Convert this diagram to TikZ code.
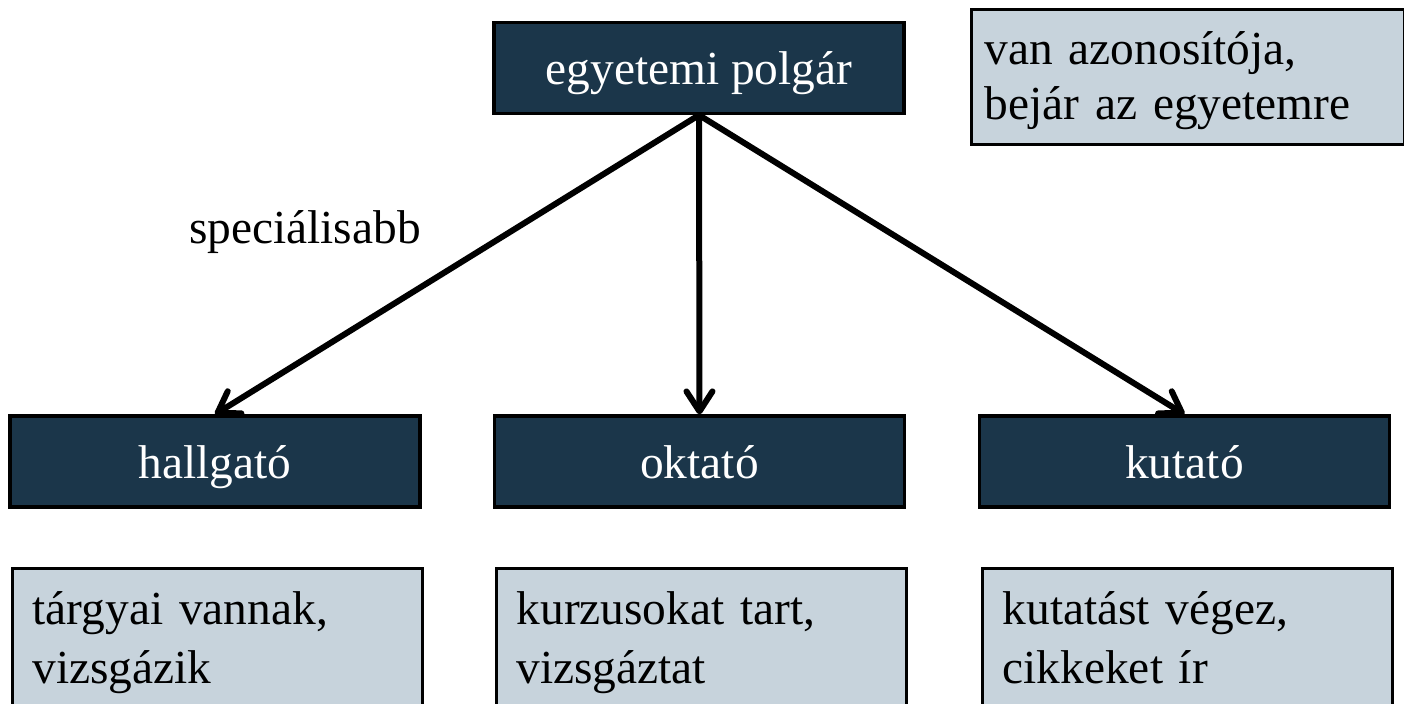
\documentclass[tikz,border=0pt]{standalone}
\usepackage{fontspec}
\setmainfont{Liberation Serif}
\usetikzlibrary{arrows.meta}
\definecolor{DarkBlue}{HTML}{1B364A}
\definecolor{PaleBlue}{HTML}{C7D3DC}
\tikzset{
  ClassBox/.style={draw=black, line width=1.6pt, fill=DarkBlue, text=white,
    minimum width=205pt, minimum height=45.5pt, inner sep=0pt,
    text height=16.5pt, text depth=0pt,
    font=\fontsize{23.7}{29.3}\selectfont},
  NoteBox/.style={draw=black, line width=1.6pt, fill=PaleBlue, anchor=north west,
    align=left, inner xsep=10pt, inner ysep=0pt, text width=185pt,
    text height=28pt, text depth=48.5pt,
    font=\fontsize{23.7}{29.3}\selectfont},
  SpecArrow/.style={line width=3pt, line cap=round, line join=round,
    -{Straight Barb[length=10pt,width=13pt,round]}}
}
\begin{document}
\begin{tikzpicture}[x=0.5pt,y=-0.5pt]
    \useasboundingbox (0,0) rectangle (1404,703);

    % general class and its note
    \node [ClassBox] (Polgar) at (699,68) {egyetemi polgár};
    \node [NoteBox, inner xsep=6.5pt, text width=203.5pt, text height=27.5pt, text depth=40pt,
      font=\fontsize{23.7}{27.5}\selectfont]
      (PolgarNote) at (970,8) {van azonosítója,\\bejár az egyetemre};

    % special classes
    \node [ClassBox] (Hallgato) at (215,461.5) {hallgató};
    \node [ClassBox] (Oktato) at (699.5,461.5) {oktató};
    \node [ClassBox] (Kutato) at (1184.5,461.5) {kutató};

    % notes of the special classes
    \node [NoteBox] (HallgatoNote) at (11,567) {tárgyai vannak,\\vizsgázik};
    \node [NoteBox] (OktatoNote) at (495,567) {kurzusokat tart,\\vizsgáztat};
    \node [NoteBox] (KutatoNote) at (981,567) {kutatást végez,\\cikkeket ír};

    % specialisation arrows
    \draw [SpecArrow] (Polgar.south) -- (Hallgato.north);
    \draw [SpecArrow] (Polgar.south) -- (Oktato.north);
    \draw [SpecArrow] (Polgar.south) -- (Kutato.north);
    \node [anchor=base, font=\fontsize{23.7}{29.3}\selectfont] (SpecLabel) at (305,243) {speciálisabb};
\end{tikzpicture}
\end{document}
